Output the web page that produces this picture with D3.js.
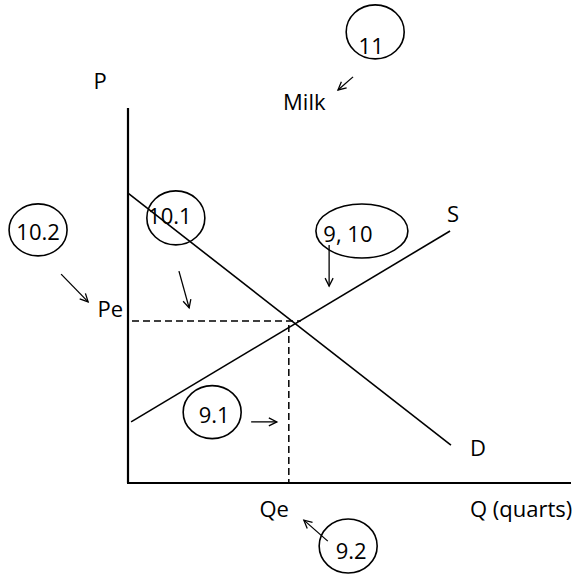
<!DOCTYPE html>
<html>
<head>
<meta charset="utf-8">
<script src="https://cdn.jsdelivr.net/npm/d3@7"></script>
<style>
  body { margin: 0; background: #fff; }
  text { font-family: "Open Sans", sans-serif; font-size: 22px; fill: #000; }
</style>
</head>
<body>
<svg id="chart"></svg>
<script>
// supply & demand for milk (price vs quantity)
const demandQ = [0, 7.29];
const demandP = [7.73, 1.01];
const supplyQ = [0.07, 7.27];
const supplyP = [1.63, 6.72];
const eqQ = 3.63;
const eqP = 4.32;
const peGuideEnd = 3.9;

const axisLabels = ["P", "Q (quarts)"];
const curveLabels = ["D", "S"];
const eqLabels = ["Pe", "Qe"];
const title = "Milk";

// circled question numbers and where their arrows point (data units)
const noteLabels = ["11", "10.2", "10.1", "9, 10", "9.1", "9.2"];
const noteQ = [5.58, -2.03, 1.08, 5.28, 1.90, 4.97];
const noteP = [12.03, 6.75, 7.07, 6.72, 1.89, -1.68];
const arrowFromQ = [5.08, -1.51, 1.15, 4.54, 2.78, 4.51];
const arrowFromP = [10.83, 5.57, 5.65, 6.35, 1.63, -1.55];
const arrowToQ = [4.74, -0.90, 1.38, 4.54, 3.36, 3.97];
const arrowToP = [10.48, 4.83, 4.67, 5.25, 1.63, -0.99];

const width = 578, height = 577;
const svg = d3.select("#chart").attr("width", width).attr("height", height);

const x = d3.scaleLinear().domain([0, 10]).range([128, 571]);
const y = d3.scaleLinear().domain([0, 10]).range([483, 108]);

// ellipse sizes and text nudges, px
const noteRx = [29, 29, 29, 46, 29, 29];
const noteRy = [27, 26, 27, 27, 26.5, 27];
const noteDx = [-4, 0, -6, -14, 2, 3];
const noteDy = [13, 1, -3, 2, 2, 4];

svg.append("defs").append("marker")
  .attr("id", "arrow")
  .attr("markerUnits", "userSpaceOnUse")
  .attr("markerWidth", 12).attr("markerHeight", 12)
  .attr("refX", 9).attr("refY", 5)
  .attr("orient", "auto")
  .append("path")
  .attr("d", "M1,1 L9,5 L1,9")
  .attr("fill", "none")
  .attr("stroke", "#000")
  .attr("stroke-width", 1.3);

// axes
svg.append("line")
  .attr("x1", x(0)).attr("y1", y(10))
  .attr("x2", x(0)).attr("y2", y(0))
  .attr("stroke", "#000").attr("stroke-width", 2.2);
svg.append("line")
  .attr("x1", x(0) - 1).attr("y1", y(0))
  .attr("x2", x(10)).attr("y2", y(0))
  .attr("stroke", "#000").attr("stroke-width", 2.2);

// equilibrium guides
svg.append("line")
  .attr("x1", x(0) + 4).attr("y1", y(eqP))
  .attr("x2", x(peGuideEnd)).attr("y2", y(eqP))
  .attr("stroke", "#000").attr("stroke-width", 1.5)
  .attr("stroke-dasharray", "7,4");
svg.append("line")
  .attr("x1", x(eqQ)).attr("y1", y(eqP) + 4)
  .attr("x2", x(eqQ)).attr("y2", y(0))
  .attr("stroke", "#000").attr("stroke-width", 1.5)
  .attr("stroke-dasharray", "7,4");

// curves
const line = d3.line().x(d => x(d[0])).y(d => y(d[1]));
svg.append("path")
  .datum(d3.zip(demandQ, demandP))
  .attr("d", line)
  .attr("fill", "none").attr("stroke", "#000").attr("stroke-width", 1.6);
svg.append("path")
  .datum(d3.zip(supplyQ, supplyP))
  .attr("d", line)
  .attr("fill", "none").attr("stroke", "#000").attr("stroke-width", 1.6);

// labels
svg.append("text").attr("x", x(-0.63)).attr("y", y(10.51))
  .attr("text-anchor", "middle").text(axisLabels[0]);
svg.append("text").attr("x", x(7.72)).attr("y", y(-0.91))
  .text(axisLabels[1]);
svg.append("text").attr("x", x(7.72)).attr("y", y(0.72))
  .text(curveLabels[0]);
svg.append("text").attr("x", x(7.20)).attr("y", y(6.96))
  .text(curveLabels[1]);
svg.append("text").attr("x", x(-0.11)).attr("y", y(4.43))
  .attr("text-anchor", "end").text(eqLabels[0]);
svg.append("text").attr("x", x(3.30)).attr("y", y(-0.91))
  .attr("text-anchor", "middle").text(eqLabels[1]);
svg.append("text").attr("x", x(3.50)).attr("y", y(9.95))
  .text(title);

// circled notes
const notes = noteLabels.map((label, i) => ({
  label, q: noteQ[i], p: noteP[i], rx: noteRx[i], ry: noteRy[i], dx: noteDx[i], dy: noteDy[i]
}));
const ng = svg.selectAll("g.note").data(notes).enter().append("g").attr("class", "note");
ng.append("ellipse")
  .attr("cx", d => x(d.q)).attr("cy", d => y(d.p))
  .attr("rx", d => d.rx).attr("ry", d => d.ry)
  .attr("fill", "none").attr("stroke", "#000").attr("stroke-width", 1.6);
ng.append("text")
  .attr("x", d => x(d.q) + d.dx).attr("y", d => y(d.p) + d.dy)
  .attr("text-anchor", "middle").attr("dominant-baseline", "central")
  .text(d => d.label);

svg.selectAll("line.arrow")
  .data(d3.range(noteLabels.length))
  .enter().append("line")
  .attr("class", "arrow")
  .attr("x1", i => x(arrowFromQ[i])).attr("y1", i => y(arrowFromP[i]))
  .attr("x2", i => x(arrowToQ[i])).attr("y2", i => y(arrowToP[i]))
  .attr("stroke", "#000").attr("stroke-width", 1.3)
  .attr("marker-end", "url(#arrow)");
</script>
</body>
</html>
